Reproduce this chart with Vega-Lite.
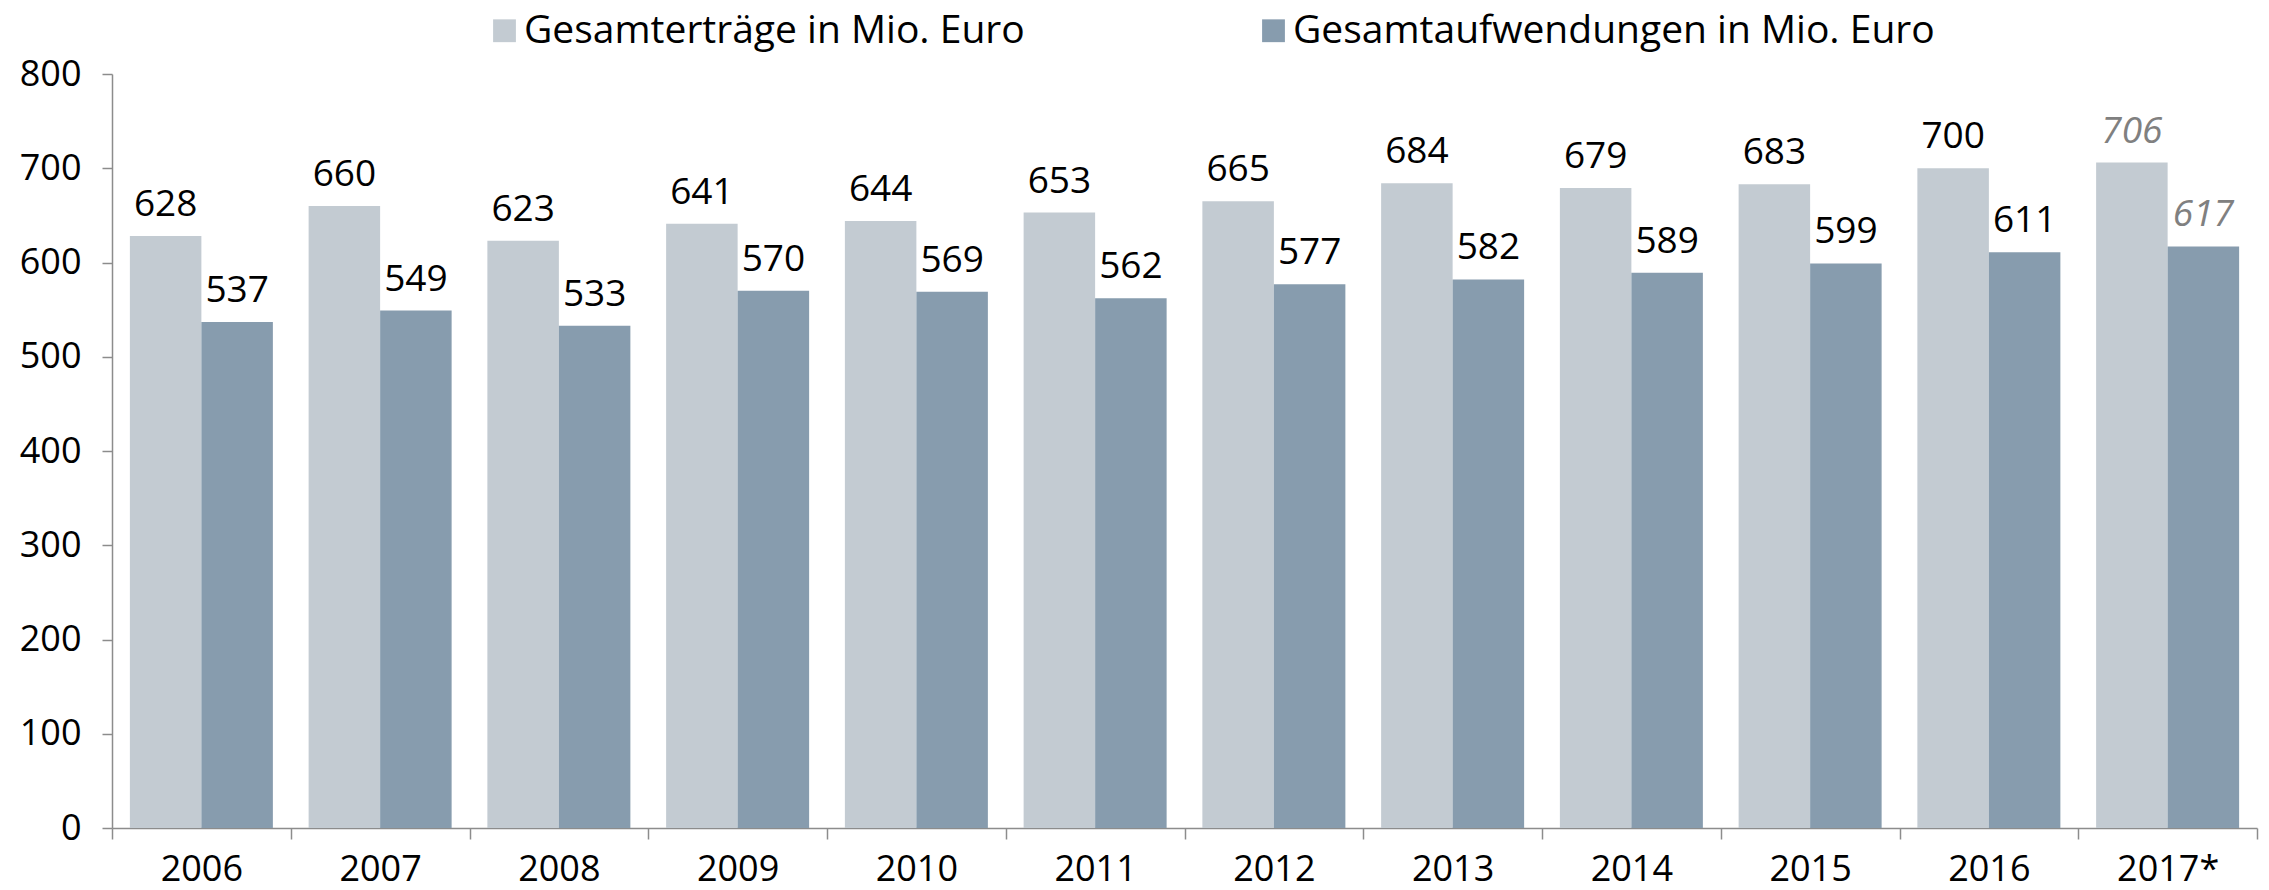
{
  "$schema": "https://vega.github.io/schema/vega-lite/v6.json",
  "width": 2145,
  "height": 754,
  "autosize": {"type": "none"},
  "padding": {"left": 112, "top": 74, "right": 12, "bottom": 62},
  "background": "white",
  "config": {"view": {"stroke": null}, "font": "Open Sans"},
  "data": {
    "values": [
      {"jahr": "2006", "reihe": "Gesamterträge in Mio. Euro", "wert": 628, "prognose": false},
      {"jahr": "2006", "reihe": "Gesamtaufwendungen in Mio. Euro", "wert": 537, "prognose": false},
      {"jahr": "2007", "reihe": "Gesamterträge in Mio. Euro", "wert": 660, "prognose": false},
      {"jahr": "2007", "reihe": "Gesamtaufwendungen in Mio. Euro", "wert": 549, "prognose": false},
      {"jahr": "2008", "reihe": "Gesamterträge in Mio. Euro", "wert": 623, "prognose": false},
      {"jahr": "2008", "reihe": "Gesamtaufwendungen in Mio. Euro", "wert": 533, "prognose": false},
      {"jahr": "2009", "reihe": "Gesamterträge in Mio. Euro", "wert": 641, "prognose": false},
      {"jahr": "2009", "reihe": "Gesamtaufwendungen in Mio. Euro", "wert": 570, "prognose": false},
      {"jahr": "2010", "reihe": "Gesamterträge in Mio. Euro", "wert": 644, "prognose": false},
      {"jahr": "2010", "reihe": "Gesamtaufwendungen in Mio. Euro", "wert": 569, "prognose": false},
      {"jahr": "2011", "reihe": "Gesamterträge in Mio. Euro", "wert": 653, "prognose": false},
      {"jahr": "2011", "reihe": "Gesamtaufwendungen in Mio. Euro", "wert": 562, "prognose": false},
      {"jahr": "2012", "reihe": "Gesamterträge in Mio. Euro", "wert": 665, "prognose": false},
      {"jahr": "2012", "reihe": "Gesamtaufwendungen in Mio. Euro", "wert": 577, "prognose": false},
      {"jahr": "2013", "reihe": "Gesamterträge in Mio. Euro", "wert": 684, "prognose": false},
      {"jahr": "2013", "reihe": "Gesamtaufwendungen in Mio. Euro", "wert": 582, "prognose": false},
      {"jahr": "2014", "reihe": "Gesamterträge in Mio. Euro", "wert": 679, "prognose": false},
      {"jahr": "2014", "reihe": "Gesamtaufwendungen in Mio. Euro", "wert": 589, "prognose": false},
      {"jahr": "2015", "reihe": "Gesamterträge in Mio. Euro", "wert": 683, "prognose": false},
      {"jahr": "2015", "reihe": "Gesamtaufwendungen in Mio. Euro", "wert": 599, "prognose": false},
      {"jahr": "2016", "reihe": "Gesamterträge in Mio. Euro", "wert": 700, "prognose": false},
      {"jahr": "2016", "reihe": "Gesamtaufwendungen in Mio. Euro", "wert": 611, "prognose": false},
      {"jahr": "2017*", "reihe": "Gesamterträge in Mio. Euro", "wert": 706, "prognose": true},
      {"jahr": "2017*", "reihe": "Gesamtaufwendungen in Mio. Euro", "wert": 617, "prognose": true}
    ]
  },
  "encoding": {
    "x": {
      "field": "jahr", "type": "nominal", "sort": null,
      "scale": {"paddingInner": 0, "paddingOuter": 0},
      "axis": {
        "title": null, "labelAngle": 0, "tickBand": "extent", "tickSize": 11,
        "labelPadding": 13, "labelFontSize": 36, "labelColor": "#000000",
        "domainColor": "#8c8c8c", "tickColor": "#8c8c8c", "domainWidth": 1.5, "tickWidth": 1.5
      }
    },
    "y": {
      "field": "wert", "type": "quantitative",
      "scale": {"domain": [0, 800], "nice": false},
      "axis": {
        "title": null, "grid": false, "values": [0, 100, 200, 300, 400, 500, 600, 700, 800],
        "tickSize": 10, "labelPadding": 21, "labelFontSize": 36, "labelColor": "#000000",
        "domainColor": "#8c8c8c", "tickColor": "#8c8c8c", "domainWidth": 1.5, "tickWidth": 1.5
      }
    },
    "xOffset": {
      "field": "reihe", "type": "nominal",
      "sort": ["Gesamterträge in Mio. Euro", "Gesamtaufwendungen in Mio. Euro"],
      "scale": {"paddingInner": 0, "paddingOuter": 0.25}
    }
  },
  "layer": [
    {
      "mark": {"type": "bar"},
      "encoding": {
        "color": {
          "field": "reihe", "type": "nominal",
          "sort": ["Gesamterträge in Mio. Euro", "Gesamtaufwendungen in Mio. Euro"],
          "scale": {"range": ["#c3cbd2", "#879cae"]},
          "legend": {
            "title": null, "orient": "none", "direction": "horizontal",
            "legendX": 373, "legendY": -63, "padding": 0,
            "symbolType": "square", "symbolSize": 520, "symbolStrokeWidth": 0,
            "labelFontSize": 39, "labelColor": "#000000", "labelOffset": 0,
            "columnPadding": 229, "labelLimit": 1000
          }
        }
      }
    },
    {
      "transform": [{"filter": "!datum.prognose"}],
      "mark": {"type": "text", "baseline": "alphabetic", "dy": -20, "fontSize": 37, "color": "#000000"},
      "encoding": {"text": {"field": "wert", "type": "quantitative"}}
    },
    {
      "transform": [{"filter": "datum.prognose"}],
      "mark": {"type": "text", "baseline": "alphabetic", "dy": -20, "fontSize": 37, "fontStyle": "italic", "color": "#808080"},
      "encoding": {"text": {"field": "wert", "type": "quantitative"}}
    }
  ]
}
